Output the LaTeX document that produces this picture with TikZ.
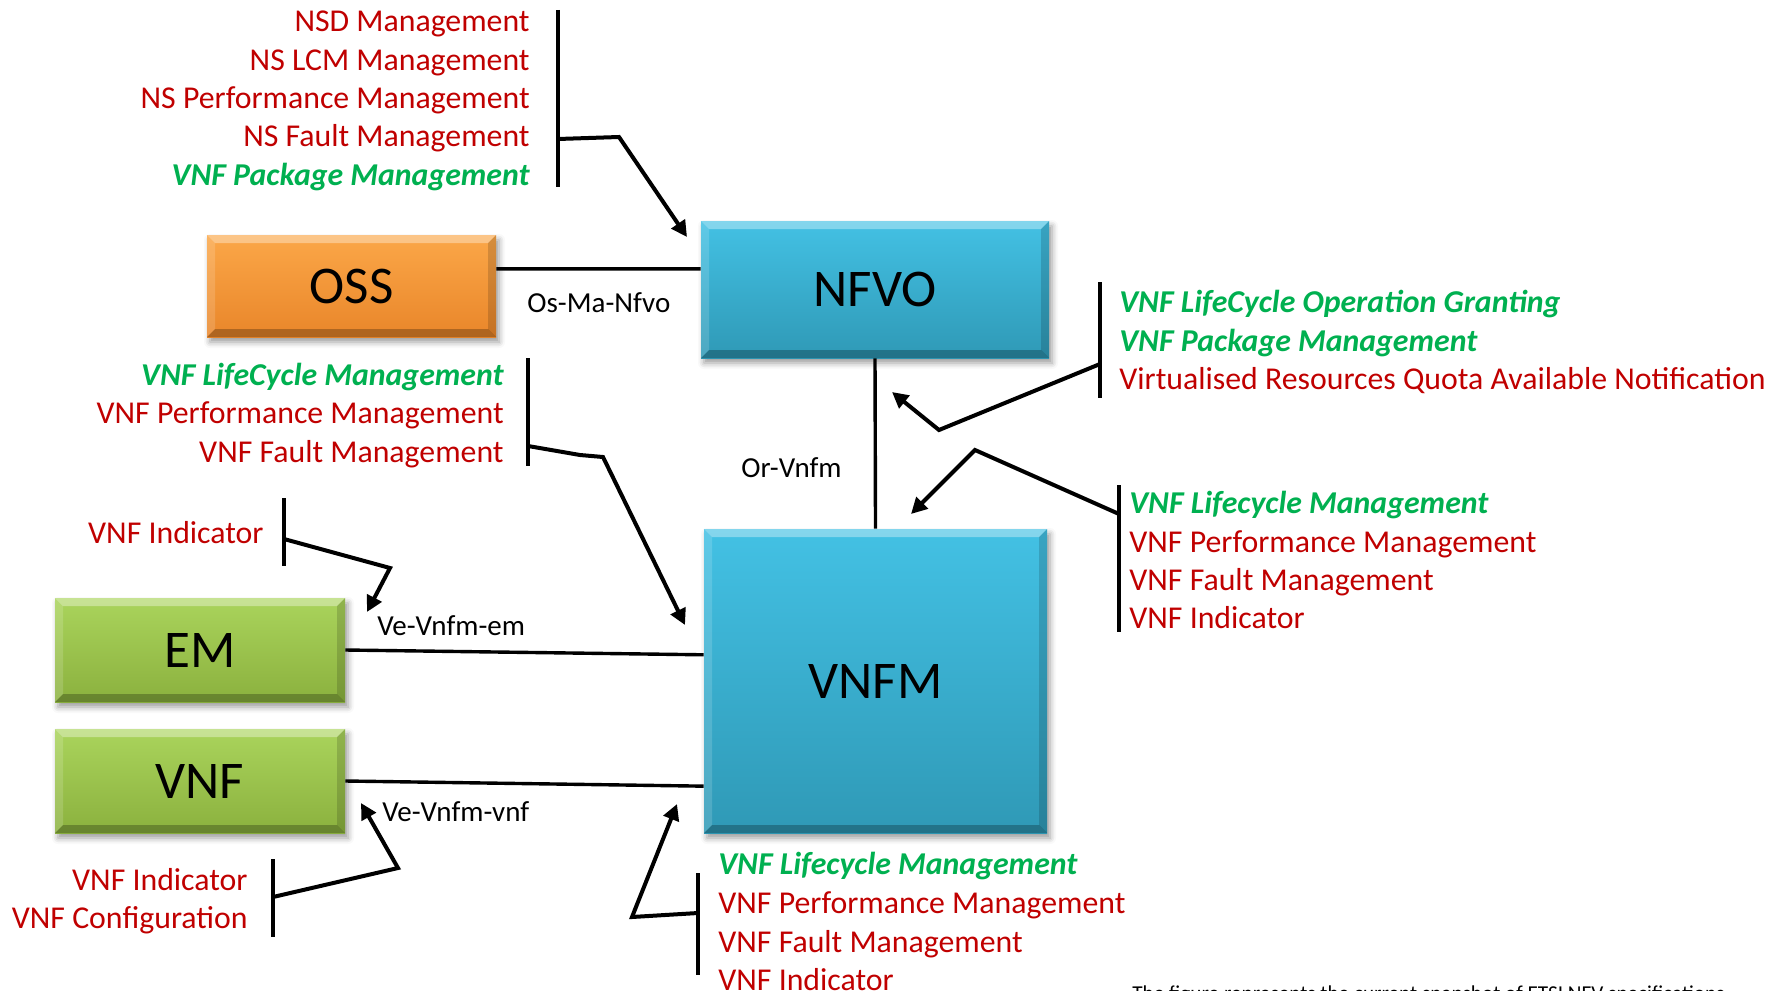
\documentclass[tikz,border=0pt]{standalone}
\usepackage{fontspec}
\setmainfont{Carlito}
\usetikzlibrary{arrows.meta,calc,shadows.blur}

\definecolor{txtred}{HTML}{C00000}
\definecolor{txtgreen}{HTML}{00B050}
\definecolor{ossTop}{HTML}{FBA748}
\definecolor{ossBot}{HTML}{E9862A}
\definecolor{bluTop}{HTML}{43C1E4}
\definecolor{bluBot}{HTML}{2F99B6}
\definecolor{grnTop}{HTML}{AAD45C}
\definecolor{grnBot}{HTML}{8BB13E}

\tikzset{
  bevel/.style={path picture={
    \coordinate (bnw) at (path picture bounding box.north west);
    \coordinate (bse) at (path picture bounding box.south east);
    \fill[white,opacity=.35] (bnw) -- (bnw -| bse) -- ([shift={(-4pt,-4pt)}]bnw -| bse) -- ([shift={(4pt,-4pt)}]bnw) -- cycle;
    \fill[white,opacity=.15] (bnw) -- ([shift={(4pt,-4pt)}]bnw) -- ([shift={(4pt,4pt)}]bnw |- bse) -- (bnw |- bse) -- cycle;
    \fill[black,opacity=.15] (bse) -- (bse |- bnw) -- ([shift={(-4pt,-4pt)}]bse |- bnw) -- ([shift={(-4pt,4pt)}]bse) -- cycle;
    \fill[black,opacity=.25] (bse) -- (bnw |- bse) -- ([shift={(4pt,4pt)}]bnw |- bse) -- ([shift={(-4pt,4pt)}]bse) -- cycle;
  }},
  box/.style={rectangle, inner sep=0pt, text=black,
    font=\fontsize{26.5}{31}\selectfont,
    blur shadow={shadow xshift=1.5pt, shadow yshift=-2.5pt, shadow blur radius=3pt, shadow opacity=40},
    bevel},
  ossbox/.style={box, top color=ossTop, bottom color=ossBot},
  blubox/.style={box, top color=bluTop, bottom color=bluBot},
  grnbox/.style={box, top color=grnTop, bottom color=grnBot},
  item/.style={inner sep=0pt, text=txtred, font=\fontsize{15.9}{19}\selectfont},
  gitem/.style={inner sep=0pt, text=txtgreen, font=\fontsize{15.9}{19}\selectfont\bfseries\itshape},
  lbl/.style={inner sep=0pt, text=black, font=\fontsize{14.5}{17}\selectfont},
  link/.style={line width=1.7pt},
  bar/.style={line width=2pt},
  arr/.style={line width=2pt, line join=miter, -{Triangle[length=8pt,width=8pt]}},
}

\begin{document}
\begin{tikzpicture}[x=0.5pt,y=-0.5pt]
\useasboundingbox (0,0) rectangle (1781,990);
\clip (0,0) rectangle (1781,990);

% functional blocks
\node[ossbox, minimum width=144.5pt, minimum height=51pt]  (oss)  at (351.5,286) {OSS};
\node[blubox, minimum width=174pt,   minimum height=68.5pt] (nfvo) at (875,289.5) {NFVO};
\node[blubox, minimum width=171.5pt, minimum height=152pt]  (vnfm) at (875.5,681) {VNFM};
\node[grnbox, minimum width=145pt,   minimum height=52pt]  (em)   at (200,650) {EM};
\node[grnbox, minimum width=145pt,   minimum height=52pt]  (vnf)  at (200,781) {VNF};

% reference points
\draw[link] ($(oss.north east)!.333!(oss.south east)$) -- ($(nfvo.north west)!.35!(nfvo.south west)$);
\draw[link] (nfvo.south) -- (vnfm.north);
\draw[link] (em.east) -- ($(vnfm.north west)!.414!(vnfm.south west)$);
\draw[link] (vnf.east) -- ($(vnfm.north west)!.845!(vnfm.south west)$);

\node[lbl, anchor=base west] (lOsMa)  at (527,312) {Os-Ma-Nfvo};
\node[lbl, anchor=base west] (lOrV)   at (741,477) {Or-Vnfm};
\node[lbl, anchor=base west] (lVeEm)  at (377,635) {Ve-Vnfm-em};
\node[lbl, anchor=base west] (lVeVnf) at (382,821) {Ve-Vnfm-vnf};

% Os-Ma-Nfvo interfaces
\node[item,  anchor=base east] (a1) at (530,32)  {NSD Management};
\node[item,  anchor=base east] (a2) at (530,71)  {NS LCM Management};
\node[item,  anchor=base east] (a3) at (530,109) {NS Performance Management};
\node[item,  anchor=base east] (a4) at (530,147) {NS Fault Management};
\node[gitem, anchor=base east] (a5) at (530,185) {VNF Package Management};
\coordinate (aT) at (558,10);  \coordinate (aB) at (558,187);
\coordinate (aS) at (558,139); \coordinate (aM) at (619,137); \coordinate (aE) at (687,237);
\draw[bar] (aT) -- (aB);
\draw[arr] (aS) -- (aM) -- (aE);

% Or-Vnfm, VNFM side
\node[gitem, anchor=base west] (b1) at (1119,312) {VNF LifeCycle Operation Granting};
\node[gitem, anchor=base west] (b2) at (1119,351) {VNF Package Management};
\node[item,  anchor=base west] (b3) at (1119,389) {Virtualised Resources Quota Available Notification};
\coordinate (bT) at (1100,282); \coordinate (bB) at (1100,398);
\coordinate (bS) at (1100,364); \coordinate (bM) at (939,430); \coordinate (bE) at (892,392);
\draw[bar] (bT) -- (bB);
\draw[arr] (bS) -- (bM) -- (bE);

% Or-Vnfm, NFVO side
\node[gitem, anchor=base west] (c1) at (1129,513) {VNF Lifecycle Management};
\node[item,  anchor=base west] (c2) at (1129,552) {VNF Performance Management};
\node[item,  anchor=base west] (c3) at (1129,590) {VNF Fault Management};
\node[item,  anchor=base west] (c4) at (1129,628) {VNF Indicator};
\coordinate (cT) at (1119,485); \coordinate (cB) at (1119,632);
\coordinate (cS) at (1119,514); \coordinate (cM) at (975,450); \coordinate (cE) at (911,514);
\draw[bar] (cT) -- (cB);
\draw[arr] (cS) -- (cM) -- (cE);

% Ve-Vnfm-em, EM towards VNFM
\node[gitem, anchor=base east] (d1) at (504,385) {VNF LifeCycle Management};
\node[item,  anchor=base east] (d2) at (504,423) {VNF Performance Management};
\node[item,  anchor=base east] (d3) at (504,462) {VNF Fault Management};
\coordinate (dT) at (528,358); \coordinate (dB) at (528,466);
\coordinate (dS) at (528,446); \coordinate (dM) at (580,455); \coordinate (dN) at (603,457); \coordinate (dE) at (685,625);
\draw[bar] (dT) -- (dB);
\draw[arr] (dS) -- (dM) -- (dN) -- (dE);

% Ve-Vnfm-em, VNFM towards EM
\node[item, anchor=base east] (e1) at (264,543) {VNF Indicator};
\coordinate (eT) at (284,498); \coordinate (eB) at (284,566);
\coordinate (eS) at (284,539); \coordinate (eM) at (390,568); \coordinate (eE) at (367,612);
\draw[bar] (eT) -- (eB);
\draw[arr] (eS) -- (eM) -- (eE);

% Ve-Vnfm-vnf, VNFM towards VNF
\node[item, anchor=base east] (f1) at (248,890) {VNF Indicator};
\node[item, anchor=base east] (f2) at (248,928) {VNF Configuration};
\coordinate (fT) at (273,859); \coordinate (fB) at (273,937);
\coordinate (fS) at (273,897); \coordinate (fM) at (398,868); \coordinate (fE) at (361,803);
\draw[bar] (fT) -- (fB);
\draw[arr] (fS) -- (fM) -- (fE);

% Ve-Vnfm-vnf, VNF towards VNFM
\node[gitem, anchor=base west] (g1) at (718,874) {VNF Lifecycle Management};
\node[item,  anchor=base west] (g2) at (718,913) {VNF Performance Management};
\node[item,  anchor=base west] (g3) at (718,952) {VNF Fault Management};
\node[item,  anchor=base west] (g4) at (718,990) {VNF Indicator};
\coordinate (gT) at (698,873); \coordinate (gB) at (698,975);
\coordinate (gS) at (698,913); \coordinate (gM) at (632,917); \coordinate (gE) at (677,804);
\draw[bar] (gT) -- (gB);
\draw[arr] (gS) -- (gM) -- (gE);

% caption running off the lower edge
\node[inner sep=0pt, anchor=base west, font=\fontsize{10.6}{12}\selectfont] (cap) at (1132,1000)
  {The figure represents the current snapshot of ETSI NFV specifications};
\end{tikzpicture}
\end{document}
